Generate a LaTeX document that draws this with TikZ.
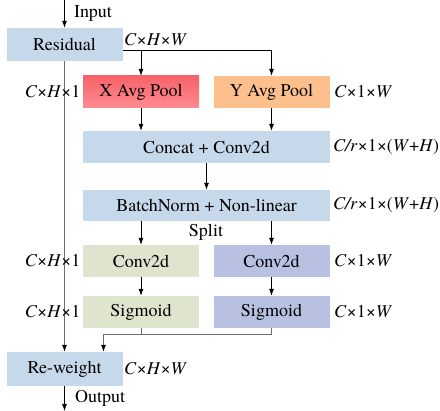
\documentclass[tikz,border=0pt]{standalone}
\usepackage{fontspec}
\setmainfont{texgyretermes}[Extension=.otf, UprightFont=*-regular, ItalicFont=*-italic, BoldFont=*-bold, BoldItalicFont=*-bolditalic]
\usetikzlibrary{arrows.meta}

\definecolor{boxblue}{RGB}{198,217,235}
\definecolor{poolred}{RGB}{247,98,106}
\definecolor{poolredlight}{RGB}{255,140,145}
\definecolor{poolorange}{RGB}{253,192,140}
\definecolor{convgreen}{RGB}{223,228,206}
\definecolor{convlav}{RGB}{184,193,226}
\definecolor{skipgray}{RGB}{110,110,110}

\tikzset{
  blk/.style={rectangle, inner sep=0pt, minimum height=32pt, align=center},
  smallblk/.style={blk, minimum width=116pt},
  wideblk/.style={blk, minimum width=247pt},
  dimtext/.style={inner sep=0pt},
  flow/.style={draw=black, line width=0.7pt, -{Latex[length=7pt,width=5pt]}},
  graylink/.style={draw=skipgray, line width=0.8pt},
  grayflow/.style={graylink, -{Latex[length=7pt,width=5pt,color=black,fill=black]}},
}
\newcommand{\dimCHW}{\textit{C}×\textit{H}×\textit{W}}
\newcommand{\dimCHone}{\textit{C}×\textit{H}×1}
\newcommand{\dimConeW}{\textit{C}×1×\textit{W}}
\newcommand{\dimRed}{\textit{C/r}×1×(\textit{W}+\textit{H})}

\begin{document}
\begin{tikzpicture}[x=1pt, y=-1pt, font=\fontsize{18}{20}\selectfont]
\useasboundingbox (0,0) rectangle (440,411);

% blocks
\node[smallblk, fill=boxblue, minimum height=33pt] (res) at (64.5,44.5) {Residual};
\node[smallblk, top color=poolred, bottom color=poolredlight] (xpool) at (141,92) {X Avg Pool};
\node[smallblk, fill=poolorange] (ypool) at (271.5,92) {Y Avg Pool};
\node[wideblk, fill=boxblue] (cat) at (206.5,147) {Concat + Conv2d};
\node[wideblk, fill=boxblue, minimum height=31pt] (bn) at (206.5,205.5) {BatchNorm + Non-linear};
\node[smallblk, fill=convgreen] (convh) at (141,261) {Conv2d};
\node[smallblk, fill=convlav] (convw) at (271.5,261) {Conv2d};
\node[smallblk, fill=convgreen] (sigh) at (141,312) {Sigmoid};
\node[smallblk, fill=convlav] (sigw) at (271.5,312) {Sigmoid};
\node[smallblk, fill=boxblue, minimum height=34pt] (rew) at (64.5,369) {Re-weight};

% free ends and junctions
\coordinate (in) at (64.5,0);
\coordinate (out) at (64.5,411);
\coordinate (branch) at (123,50.5);
\coordinate (merge) at (103.5,334.5);

% input / output
\draw[flow] (in) -- (res.north);
\draw[flow] (rew.south) -- (out);
\node[dimtext, anchor=west] (inlbl) at (74,13) {Input};
\node[dimtext, anchor=west] (outlbl) at (75,398) {Output};

% skip connection
\draw[grayflow] (res.south) -- (rew.north);

% pooling branches
\draw[line width=0.7pt] (branch) -- (branch -| ypool.north);
\draw[flow] (branch -| xpool.north) -- (xpool.north);
\draw[flow] (branch -| ypool.north) -- (ypool.north);
\draw[flow] (xpool.south) -- (xpool.south |- cat.north);
\draw[flow] (ypool.south) -- (ypool.south |- cat.north);
\draw[flow] (cat.south) -- (bn.north);
\draw[flow] (bn.south -| convh.north) -- (convh.north);
\draw[flow] (bn.south -| convw.north) -- (convw.north);
\draw[flow] (convh.south) -- (sigh.north);
\draw[flow] (convw.south) -- (sigw.north);

% attention maps back to re-weight
\draw[graylink] (sigw.south) -- (sigw.south |- merge) -- (merge);
\draw[graylink] (sigh.south) -- (sigh.south |- merge);
\draw[grayflow] (merge) -- (merge |- rew.north);

% tensor shapes
\node[dimtext, anchor=west] (d1) at (124,39.5) {\dimCHW};
\node[dimtext, anchor=east] (d2) at (80.5,92) {\dimCHone};
\node[dimtext, anchor=west] (d3) at (334,92) {\dimConeW};
\node[dimtext, anchor=west] (d4) at (333,147) {\dimRed};
\node[dimtext, anchor=west] (d5) at (333,205.5) {\dimRed};
\node (split) at (206,232.5) {Split};
\node[dimtext, anchor=east] (d6) at (80.5,261) {\dimCHone};
\node[dimtext, anchor=west] (d7) at (334,261) {\dimConeW};
\node[dimtext, anchor=east] (d8) at (80.5,312) {\dimCHone};
\node[dimtext, anchor=west] (d9) at (334,312) {\dimConeW};
\node[dimtext, anchor=west] (d10) at (124,369) {\dimCHW};
\end{tikzpicture}
\end{document}
